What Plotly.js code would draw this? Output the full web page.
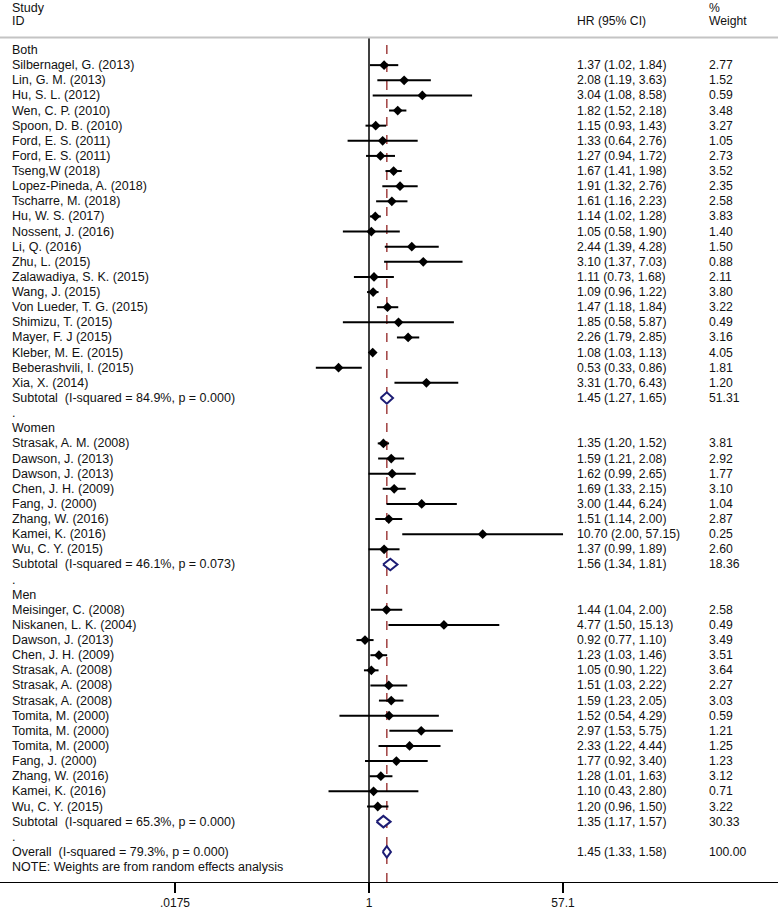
<!DOCTYPE html>
<html>
<head>
<meta charset="utf-8">
<script src="https://cdn.plot.ly/plotly-3.0.1.min.js"></script>
<style>html,body{margin:0;padding:0;background:#fff;}#chart{width:778px;height:911px;}</style>
</head>
<body>
<div id="chart"></div>
<script>
// ---------- DATA ----------
const groupNames = ["Both", "Women", "Men"];

const bothStudy = ["Silbernagel, G. (2013)","Lin, G. M. (2013)","Hu, S. L. (2012)","Wen, C. P. (2010)","Spoon, D. B. (2010)","Ford, E. S. (2011)","Ford, E. S. (2011)","Tseng,W (2018)","Lopez-Pineda, A. (2018)","Tscharre, M. (2018)","Hu, W. S. (2017)","Nossent, J. (2016)","Li, Q. (2016)","Zhu, L. (2015)","Zalawadiya, S. K. (2015)","Wang, J. (2015)","Von Lueder, T. G. (2015)","Shimizu, T. (2015)","Mayer, F. J (2015)","Kleber, M. E. (2015)","Beberashvili, I. (2015)","Xia, X. (2014)"];
const bothHR = [1.37,2.08,3.04,1.82,1.15,1.33,1.27,1.67,1.91,1.61,1.14,1.05,2.44,3.10,1.11,1.09,1.47,1.85,2.26,1.08,0.53,3.31];
const bothLo = [1.02,1.19,1.08,1.52,0.93,0.64,0.94,1.41,1.32,1.16,1.02,0.58,1.39,1.37,0.73,0.96,1.18,0.58,1.79,1.03,0.33,1.70];
const bothHi = [1.84,3.63,8.58,2.18,1.43,2.76,1.72,1.98,2.76,2.23,1.28,1.90,4.28,7.03,1.68,1.22,1.84,5.87,2.85,1.13,0.86,6.43];
const bothW  = ["2.77","1.52","0.59","3.48","3.27","1.05","2.73","3.52","2.35","2.58","3.83","1.40","1.50","0.88","2.11","3.80","3.22","0.49","3.16","4.05","1.81","1.20"];

const womenStudy = ["Strasak, A. M. (2008)","Dawson, J. (2013)","Dawson, J. (2013)","Chen, J. H. (2009)","Fang, J. (2000)","Zhang, W. (2016)","Kamei, K. (2016)","Wu, C. Y. (2015)"];
const womenHR = [1.35,1.59,1.62,1.69,3.00,1.51,10.70,1.37];
const womenLo = [1.20,1.21,0.99,1.33,1.44,1.14,2.00,0.99];
const womenHi = [1.52,2.08,2.65,2.15,6.24,2.00,57.15,1.89];
const womenW  = ["3.81","2.92","1.77","3.10","1.04","2.87","0.25","2.60"];

const menStudy = ["Meisinger, C. (2008)","Niskanen, L. K. (2004)","Dawson, J. (2013)","Chen, J. H. (2009)","Strasak, A. (2008)","Strasak, A. (2008)","Strasak, A. (2008)","Tomita, M. (2000)","Tomita, M. (2000)","Tomita, M. (2000)","Fang, J. (2000)","Zhang, W. (2016)","Kamei, K. (2016)","Wu, C. Y. (2015)"];
const menHR = [1.44,4.77,0.92,1.23,1.05,1.51,1.59,1.52,2.97,2.33,1.77,1.28,1.10,1.20];
const menLo = [1.04,1.50,0.77,1.03,0.90,1.03,1.23,0.54,1.53,1.22,0.92,1.01,0.43,0.96];
const menHi = [2.00,15.13,1.10,1.46,1.22,2.22,2.05,4.29,5.75,4.44,3.40,1.63,2.80,1.50];
const menW  = ["2.58","0.49","3.49","3.51","3.64","2.27","3.03","0.59","1.21","1.25","1.23","3.12","0.71","3.22"];

const subLabel = ["Subtotal  (I-squared = 84.9%, p = 0.000)","Subtotal  (I-squared = 46.1%, p = 0.073)","Subtotal  (I-squared = 65.3%, p = 0.000)"];
const subHR = [1.45,1.56,1.35];
const subLo = [1.27,1.34,1.17];
const subHi = [1.65,1.81,1.57];
const subW  = ["51.31","18.36","30.33"];

const overallLabel = "Overall  (I-squared = 79.3%, p = 0.000)";
const overallHR = [1.45];
const overallLo = [1.33];
const overallHi = [1.58];
const overallW = ["100.00"];

const noteText = "NOTE: Weights are from random effects analysis";
const tickVals = [0.0175, 1, 57.1];
const tickText = [".0175", "1", "57.1"];

// ---------- BUILD ----------
const W = 778;
const groups = [
  {study: bothStudy, hr: bothHR, lo: bothLo, hi: bothHi, w: bothW},
  {study: womenStudy, hr: womenHR, lo: womenLo, hi: womenHi, w: womenW},
  {study: menStudy, hr: menHR, lo: menLo, hi: menHi, w: menW}
];
const fmt = v => v.toFixed(2);
const ciText = (h,l,u) => fmt(h) + " (" + fmt(l) + ", " + fmt(u) + ")";
const nb = s => s.replace(/  /g, "\u00a0 ");

const FAM = "Liberation Sans, Arial, Helvetica, sans-serif";
const FONT = {family: FAM, size: 12.5, color: "#111"};
const NFONT = {family: FAM, size: 12.2, color: "#111"};
const annotations = [];
function ann(text, px, row, font) {
  annotations.push({text: nb(text), x: px / W, xref: "paper", y: row, yref: "y",
    xanchor: "left", yanchor: "middle", showarrow: false, font: font || FONT});
}
const XL = 10, XHR = 575, XW = 707;

const ciX = [], ciY = [], ptX = [], ptY = [], dX = [], dY = [];
const H = 0.38;
function diamond(h, l, u, r) {
  dX.push(l, h, u, h, l, null);
  dY.push(r, r - H, r, r + H, r, null);
}

let r = 0;
groups.forEach((g, gi) => {
  ann(groupNames[gi], XL, r); r++;
  g.study.forEach((s, i) => {
    ann(s, XL, r);
    ann(ciText(g.hr[i], g.lo[i], g.hi[i]), XHR, r, NFONT);
    ann(g.w[i], XW, r, NFONT);
    ciX.push(g.lo[i], g.hi[i], null); ciY.push(r, r, null);
    ptX.push(g.hr[i]); ptY.push(r);
    r++;
  });
  ann(subLabel[gi], XL, r);
  ann(ciText(subHR[gi], subLo[gi], subHi[gi]), XHR, r, NFONT);
  ann(subW[gi], XW, r, NFONT);
  diamond(subHR[gi], subLo[gi], subHi[gi], r);
  r++;
  ann(".", XL, r); r++;
});
ann(overallLabel, XL, r);
ann(ciText(overallHR[0], overallLo[0], overallHi[0]), XHR, r, NFONT);
ann(overallW[0], XW, r, NFONT);
diamond(overallHR[0], overallLo[0], overallHi[0], r);
r++;
ann(noteText, XL, r);

// headers
ann("Study", XL, -2.78);
ann("ID", XL, -1.94);
ann("HR (95% CI)", XHR, -1.94, NFONT);
ann("%", XW, -2.78, NFONT);
ann("Weight", XW, -1.94, NFONT);

const traces = [
  {x: ciX, y: ciY, mode: "lines", line: {color: "#000", width: 2}, hoverinfo: "skip", showlegend: false},
  {x: ptX, y: ptY, mode: "markers", marker: {symbol: "diamond", size: 7.5, color: "#000"}, showlegend: false},
  {x: dX, y: dY, mode: "lines", fill: "toself", fillcolor: "#ffffff", line: {color: "#1c1c74", width: 2}, showlegend: false}
];

const PXDEC = 194 / Math.log10(57.1);
const layout = {
  width: 778, height: 911,
  margin: {l: 0, r: 0, t: 0, b: 29, pad: 0},
  paper_bgcolor: "#fff", plot_bgcolor: "#fff",
  showlegend: false,
  xaxis: {
    type: "log", range: [-369 / PXDEC, 409 / PXDEC], autorange: false,
    showgrid: false, zeroline: false, showline: true, linecolor: "#000", linewidth: 1,
    ticks: "outside", ticklen: 10, tickwidth: 1.5, tickcolor: "#000",
    tickvals: tickVals, ticktext: tickText, ticklabelstandoff: 0,
    tickfont: {family: FAM, size: 12, color: "#111"},
    automargin: false, fixedrange: true
  },
  yaxis: {
    range: [(882 - 50) / 15.13, -50 / 15.13], autorange: false,
    showgrid: false, zeroline: false, showline: false, showticklabels: false, ticks: "",
    fixedrange: true
  },
  shapes: [
    {type: "line", xref: "paper", x0: 0, x1: 1, yref: "paper", y0: 1 - 37.5 / 882, y1: 1 - 37.5 / 882,
     line: {color: "#c4c4c4", width: 2}},
    {type: "line", xref: "x", x0: 1, x1: 1, yref: "paper", y0: 0, y1: 1 - 38 / 882,
     line: {color: "#000", width: 1.5}, layer: "below"},
    {type: "line", xref: "x", x0: overallHR[0], x1: overallHR[0], yref: "paper", y0: 0, y1: 1 - 39 / 882,
     line: {color: "#a04040", width: 1.5, dash: "dash"}, layer: "below"}
  ],
  annotations: annotations
};

Plotly.newPlot("chart", traces, layout, {staticPlot: true, displayModeBar: false});
</script>
</body>
</html>
